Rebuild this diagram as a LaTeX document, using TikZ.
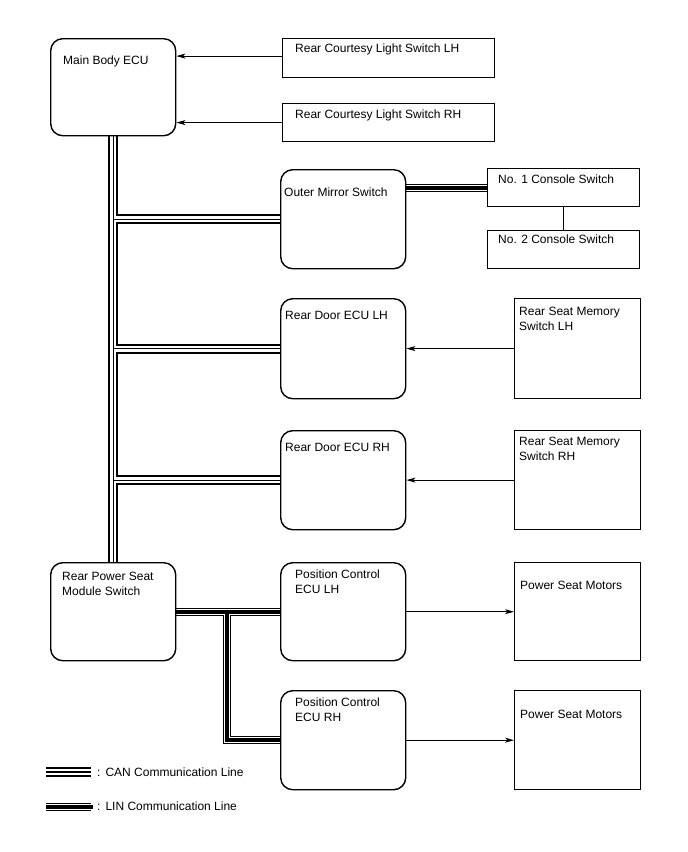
\documentclass[tikz,border=0pt]{standalone}
\usepackage{fontspec}
\setmainfont{Liberation Sans}
\usetikzlibrary{arrows.meta,backgrounds}
\begin{document}
\begin{tikzpicture}[x=1pt,y=-1pt,
  rbox/.style={draw, fill=white, line width=1.4pt, rounded corners=12pt, anchor=north west, minimum width=125pt, inner sep=0pt},
  sbox/.style={draw, fill=white, line width=1.2pt, anchor=north west, inner sep=0pt},
  lbl/.style={anchor=north west, inner sep=0pt, align=left, font=\fontsize{12}{15}\selectfont},
  arr/.style={line width=0.9pt, -{Stealth[length=9pt,width=5pt,inset=2.5pt]}},
  canA/.style={line width=10pt},
  canB/.style={line width=6.4pt, white},
  canC/.style={line width=1.3pt},
  linA/.style={line width=8pt},
  linB/.style={line width=6pt, white},
  linC/.style={line width=4pt, xshift=-1.5pt, yshift=1.5pt, shorten >=-2pt},
]
\useasboundingbox (0,0) rectangle (688,852);

% boxes
\node[rbox, minimum height=97pt] (mb) at (50,38) {};
\node[sbox, minimum width=212pt, minimum height=39pt] (cl) at (282,38) {};
\node[sbox, minimum width=212pt, minimum height=38pt] (cr) at (282,103) {};
\node[rbox, minimum height=99pt] (oms) at (280,169) {};
\node[sbox, minimum width=152pt, minimum height=38pt] (c1) at (487,168) {};
\node[sbox, minimum width=152pt, minimum height=38pt] (c2) at (487,230) {};
\node[rbox, minimum height=100pt] (rdl) at (280,298) {};
\node[sbox, minimum width=126pt, minimum height=100pt] (msl) at (514,298) {};
\node[rbox, minimum height=99pt] (rdr) at (280,430) {};
\node[sbox, minimum width=126pt, minimum height=99pt] (msr) at (514,430) {};
\node[rbox, minimum height=98pt] (rps) at (50,562) {};
\node[rbox, minimum height=98pt] (pcl) at (280,562) {};
\node[sbox, minimum width=126pt, minimum height=98pt] (psm1) at (514,562) {};
\node[rbox, minimum height=99pt] (pcr) at (280,690) {};
\node[sbox, minimum width=126pt, minimum height=99pt] (psm2) at (514,690) {};

% labels
\node[lbl] at (63,55.5) {Main Body ECU};
\node[lbl] at (295,43.5) {Rear Courtesy Light Switch LH};
\node[lbl] at (295,109.5) {Rear Courtesy Light Switch RH};
\node[lbl] at (284,187.5) {Outer Mirror Switch};
\node[lbl] at (498,174.5) {No. 1 Console Switch};
\node[lbl] at (498,234.5) {No. 2 Console Switch};
\node[lbl] at (285,310.5) {Rear Door ECU LH};
\node[lbl] at (519,306.5) {Rear Seat Memory\\Switch LH};
\node[lbl] at (285,442.5) {Rear Door ECU RH};
\node[lbl] at (519,436.5) {Rear Seat Memory\\Switch RH};
\node[lbl] at (62,571.5) {Rear Power Seat\\Module Switch};
\node[lbl] at (295,569.5) {Position Control\\ECU LH};
\node[lbl] at (520,580.5) {Power Seat Motors};
\node[lbl] at (295,697.5) {Position Control\\ECU RH};
\node[lbl] at (520,709.5) {Power Seat Motors};
\node[lbl] at (97,767.5) {:\hspace{5pt}CAN Communication Line};
\node[lbl] at (97,801.5) {:\hspace{5pt}LIN Communication Line};

% legend sample coordinates
\coordinate (canL1) at (46,772);
\coordinate (canL2) at (91,772);
\coordinate (linL1) at (46,807);
\coordinate (linL2) at (91,807);
\coordinate (jn) at (227,611);

% arrows
\draw[arr] ([yshift=2pt]cl.west) -- ([yshift=2pt]cl.west -| mb.east);
\draw[arr] (cr.west) -- (cr.west -| mb.east);
\draw[arr] (msl.west) -- (msl.west -| rdl.east);
\draw[arr] (msr.west) -- (msr.west -| rdr.east);
\draw[arr] (pcl.east) -- (pcl.east -| psm1.west);
\draw[arr] (pcr.east) -- (pcr.east -| psm2.west);
\draw[line width=1.1pt] (c1.south) -- (c2.north);

\begin{pgfonlayer}{background}
% CAN network
\foreach \st in {canA,canB,canC}{
  \draw[\st] (mb.south) -- (rps.north);
  \draw[\st] (mb.south |- oms.west) -- (oms.west);
  \draw[\st] (mb.south |- rdl.west) -- (rdl.west);
  \draw[\st] (mb.south |- rdr.west) -- (rdr.west);
  \draw[\st] (canL1) -- (canL2);
}
% LIN network
\foreach \st in {linA,linB,linC}{
  \draw[\st] (c1.west -| oms.east) -- (c1.west);
  \draw[\st] (rps.east) -- (pcl.west);
  \draw[\st] (jn) |- (pcr.west);
  \draw[\st] (linL1) -- (linL2);
}
\end{pgfonlayer}
\end{tikzpicture}
\end{document}
